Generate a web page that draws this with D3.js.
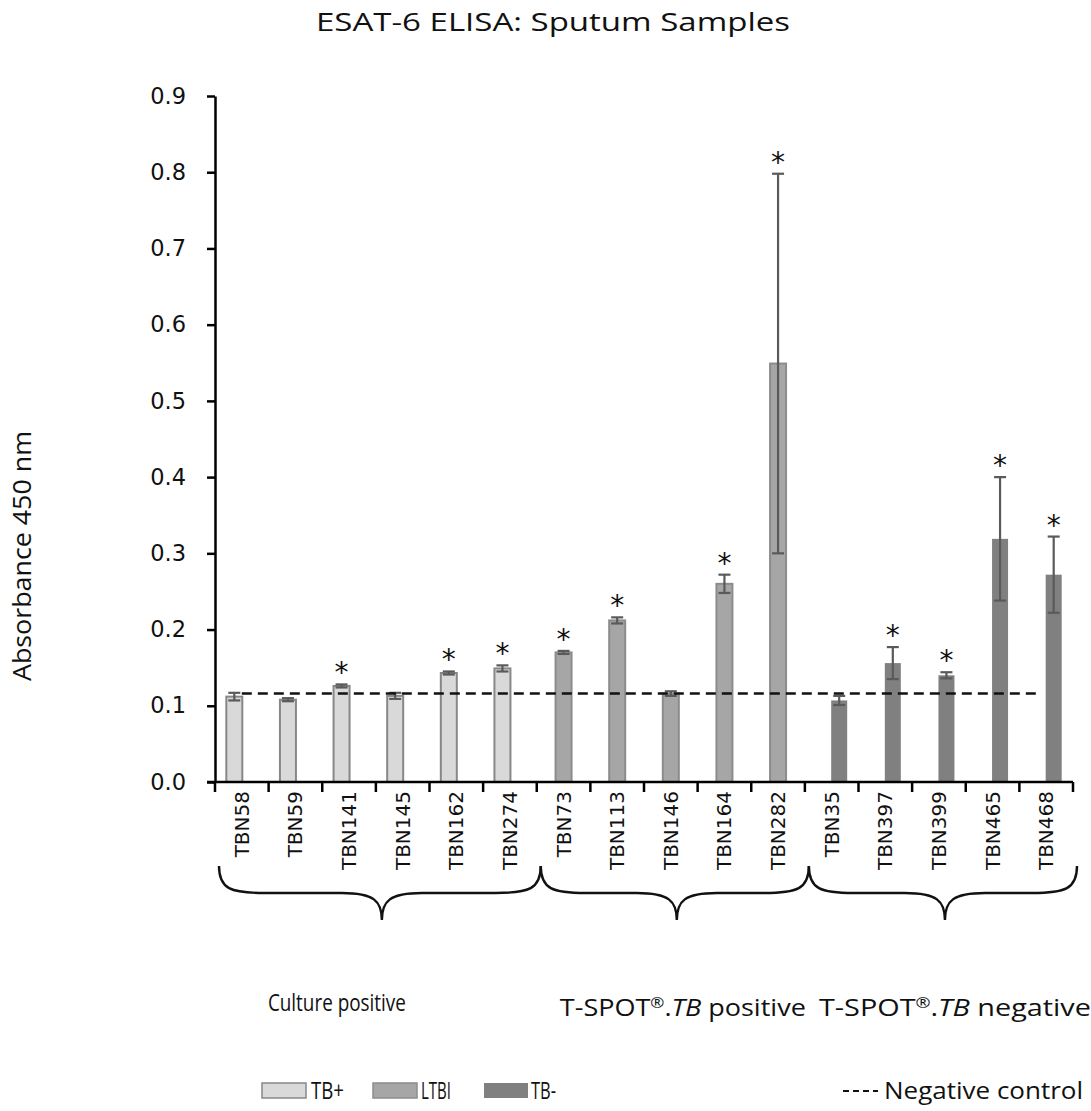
<!DOCTYPE html>
<html><head><meta charset="utf-8">
<script src="https://cdn.jsdelivr.net/npm/d3@7"></script>
<style>body{margin:0;background:#fff}</style>
</head><body>
<svg id="c" width="1091" height="1111"></svg>
<script>
const categories = ["TBN58","TBN59","TBN141","TBN145","TBN162","TBN274","TBN73","TBN113","TBN146","TBN164","TBN282","TBN35","TBN397","TBN399","TBN465","TBN468"];
const groupOf   = ["TB+","TB+","TB+","TB+","TB+","TB+","LTBI","LTBI","LTBI","LTBI","LTBI","TB-","TB-","TB-","TB-","TB-"];
const values    = [0.112,0.108,0.126,0.113,0.143,0.149,0.170,0.212,0.116,0.260,0.549,0.107,0.156,0.140,0.319,0.272];
const errors    = [0.005,0.002,0.002,0.004,0.002,0.004,0.002,0.004,0.003,0.012,0.249,0.006,0.021,0.004,0.081,0.050];
const significant = [false,false,true,false,true,true,true,true,false,true,true,false,true,true,true,true];
const negativeControl = 0.116;
const series = ["TB+","LTBI","TB-"];
const yTicks = [0,0.1,0.2,0.3,0.4,0.5,0.6,0.7,0.8,0.9];
const groupNames = ["Culture positive","T-SPOT®.TB positive","T-SPOT®.TB negative"];
const groupSeries = ["TB+","LTBI","TB-"];

const svg = d3.select("#c");
const L=215, R=1073, T=96, B=782;
const x = d3.scaleBand().domain(categories).range([L,R]).padding(0);
const off = d3.scalePoint().domain(series).range([-7.5,7.5]);
const y = d3.scaleLinear().domain([0,0.9]).range([B,T]);
const fill = {"TB+":"#d9d9d9","LTBI":"#a6a6a6","TB-":"#808080"};
const stroke = {"TB+":"#878787","LTBI":"#8c8c8c","TB-":"#808080"};
const bw = 16;
const data = categories.map((c,i)=>({c,g:groupOf[i],v:values[i],e:errors[i],s:significant[i]}));
const cx = d=> x(d.c)+x.bandwidth()/2+off(d.g);
const FONT = "'Liberation Sans Narrow', 'Open Sans', sans-serif";

// title
svg.append("text").attr("x",553).attr("y",31).attr("text-anchor","middle")
  .attr("font-family","'Open Sans', sans-serif").attr("font-size",26).attr("fill","#111")
  .attr("textLength",474).attr("lengthAdjust","spacingAndGlyphs")
  .text("ESAT-6 ELISA: Sputum Samples");

// bars
svg.append("g").selectAll("rect").data(data).join("rect")
  .attr("x",d=>cx(d)-bw/2).attr("width",bw)
  .attr("y",d=>y(d.v)).attr("height",d=>y(0)-y(d.v))
  .attr("fill",d=>fill[d.g]).attr("stroke",d=>stroke[d.g])
  .attr("stroke-width",d=>d.g==="TB-"?0:2);

// error bars
const eg = svg.append("g").attr("stroke","#5a5a5a").attr("stroke-width",2.2);
data.forEach(d=>{
  const xc=cx(d);
  eg.append("line").attr("x1",xc).attr("x2",xc).attr("y1",y(d.v+d.e)).attr("y2",y(d.v-d.e));
  eg.append("line").attr("x1",xc-6).attr("x2",xc+6).attr("y1",y(d.v+d.e)).attr("y2",y(d.v+d.e));
  eg.append("line").attr("x1",xc-6).attr("x2",xc+6).attr("y1",y(d.v-d.e)).attr("y2",y(d.v-d.e));
});

// stars
svg.append("g").selectAll("text").data(data.filter(d=>d.s)).join("text")
  .attr("x",d=>cx(d)).attr("y",d=>y(d.v+d.e)-2).attr("text-anchor","middle")
  .attr("font-family","DejaVu Sans, sans-serif").attr("font-size",28).attr("fill","#111")
  .text("*");

// negative control line
svg.append("line").attr("x1",x(categories[0])+x.bandwidth()/2).attr("x2",x(categories[categories.length-1])+x.bandwidth()/2-5)
  .attr("y1",y(negativeControl)).attr("y2",y(negativeControl))
  .attr("stroke","#111").attr("stroke-width",2.5).attr("stroke-dasharray","10,6");

// y axis
const ya = svg.append("g").attr("transform",`translate(${L},0)`)
  .call(d3.axisLeft(y).tickValues(yTicks).tickFormat(d3.format(".1f")).tickSize(8).tickSizeOuter(0));
ya.select(".domain").attr("stroke","#000").attr("stroke-width",2.5);
ya.selectAll(".tick line").attr("stroke","#000").attr("stroke-width",2.5);
ya.selectAll(".tick text").attr("font-family","DejaVu Sans, sans-serif").attr("font-size",22.5).attr("fill","#111").attr("x",-29);

// x axis
const xa = svg.append("g").attr("transform",`translate(0,${B})`);
xa.append("line").attr("x1",L-8).attr("x2",R).attr("stroke","#000").attr("stroke-width",2.5);
const edges = categories.map(c=>x(c)).concat([R]);
xa.selectAll("line.t").data(edges).join("line").attr("class","t")
  .attr("x1",d=>d).attr("x2",d=>d).attr("y1",0).attr("y2",10).attr("stroke","#000").attr("stroke-width",2.5);
xa.selectAll("text").data(categories).join("text")
  .attr("transform",c=>`translate(${x(c)+x.bandwidth()/2+7},9) rotate(-90)`)
  .attr("text-anchor","end").attr("font-family","DejaVu Sans, sans-serif").attr("font-size",20).attr("fill","#111")
  .text(c=>c);

// axis title
svg.append("text").attr("transform","translate(31,556) rotate(-90)").attr("text-anchor","middle")
  .attr("font-family",FONT).attr("font-size",26).attr("fill","#111")
  .attr("textLength",250).attr("lengthAdjust","spacingAndGlyphs")
  .text("Absorbance 450 nm");

// braces
const labelDx = [-45, 6, 10];
const labelY = [1011, 1016, 1016];
const labelW = [138, 246, 272];
groupSeries.forEach((g,gi)=>{
  const idx = groupOf.map((v,i)=>v===g?i:-1).filter(i=>i>=0);
  const x0 = x(categories[idx[0]])+4, x1 = x(categories[idx[idx.length-1]])+x.bandwidth()+4;
  const m = (x0+x1)/2+2, y0=866, yh=893, yt=920;
  const p = d3.path();
  p.moveTo(x0,y0);
  p.bezierCurveTo(x0,yh-4,x0+12,yh,x0+45,yh);
  p.lineTo(m-40,yh);
  p.bezierCurveTo(m-8,yh,m,yh+8,m,yt);
  p.bezierCurveTo(m,yh+8,m+8,yh,m+40,yh);
  p.lineTo(x1-45,yh);
  p.bezierCurveTo(x1-12,yh,x1,yh-4,x1,y0);
  svg.append("path").attr("d",p.toString()).attr("fill","none").attr("stroke","#111").attr("stroke-width",2.4);
  const t = svg.append("text").attr("x",m+labelDx[gi]).attr("y",labelY[gi]).attr("text-anchor","middle")
    .attr("font-family",FONT).attr("font-size",24).attr("fill","#111")
    .attr("textLength",labelW[gi]).attr("lengthAdjust","spacingAndGlyphs");
  const name = groupNames[gi];
  if(name.startsWith("T-SPOT")){
    t.append("tspan").text("T-SPOT");
    t.append("tspan").attr("font-size",15).attr("dy",-8).text("®");
    t.append("tspan").attr("dy",8).text(".");
    t.append("tspan").attr("font-style","italic").text("TB");
    t.append("tspan").text(name.slice(name.indexOf("TB ")+2));
  } else t.text(name);
});

// legend
const leg = [{k:"TB+",sx:262,tx:311,w:33},{k:"LTBI",sx:373,tx:421,w:30},{k:"TB-",sx:484,tx:531,w:25}];
leg.forEach(l=>{
  svg.append("rect").attr("x",l.sx).attr("y",1083).attr("width",44).attr("height",15)
    .attr("fill",fill[l.k]).attr("stroke",stroke[l.k]).attr("stroke-width",l.k==="TB-"?0:1.5);
  svg.append("text").attr("x",l.tx).attr("y",1099).attr("font-family",FONT).attr("font-size",23)
    .attr("fill","#111").attr("textLength",l.w).attr("lengthAdjust","spacingAndGlyphs").text(l.k);
});
svg.append("line").attr("x1",843).attr("x2",878).attr("y1",1091).attr("y2",1091)
  .attr("stroke","#111").attr("stroke-width",2).attr("stroke-dasharray","6,4");
svg.append("text").attr("x",884).attr("y",1099).attr("font-family",FONT).attr("font-size",23)
  .attr("fill","#111").attr("textLength",199).attr("lengthAdjust","spacingAndGlyphs").text("Negative control");
</script>
</body></html>
